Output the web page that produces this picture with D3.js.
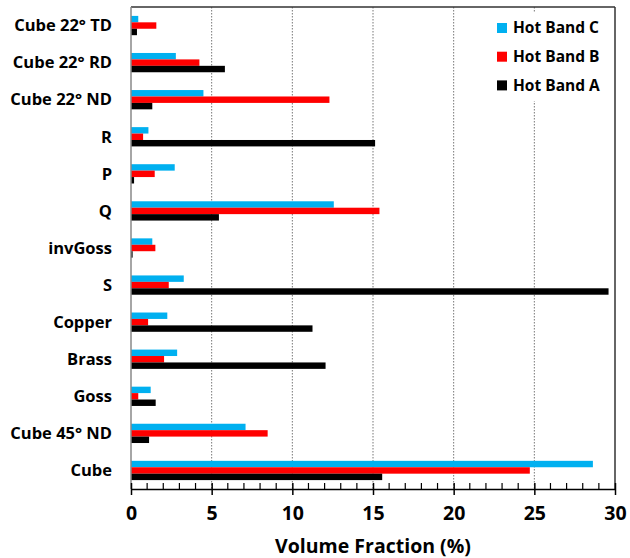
<!DOCTYPE html>
<html><head><meta charset="utf-8">
<script src="https://cdn.jsdelivr.net/npm/d3@7/dist/d3.min.js"></script>
<style>body{margin:0;background:#fff;} svg{display:block;}</style>
</head><body>
<svg id="chart" width="630" height="558"></svg>
<script>
const categories = ["Cube 22° TD","Cube 22° RD","Cube 22° ND","R","P","Q","invGoss","S","Copper","Brass","Goss","Cube 45° ND","Cube"];
const seriesNames = ["Hot Band C","Hot Band B","Hot Band A"];
const seriesColors = ["#00B0F0","#FF0000","#000000"];
const hotBandC = [0.45,2.78,4.49,1.08,2.71,12.57,1.32,3.27,2.25,2.86,1.22,7.1,28.63];
const hotBandB = [1.57,4.24,12.3,0.75,1.47,15.4,1.51,2.34,1.06,2.05,0.45,8.47,24.72];
const hotBandA = [0.37,5.82,1.32,15.13,0.19,5.45,0.1,29.6,11.25,12.06,1.53,1.12,15.57];
const xTicks = [0,5,10,15,20,25,30];
const xTitle = "Volume Fraction (%)";

const series = [hotBandC, hotBandB, hotBandA];
const svg = d3.select("#chart");
const L = 131, R = 615, T = 7, B = 489;
const font = "'Open Sans', 'DejaVu Sans', sans-serif";

const x = d3.scaleLinear().domain([0,30]).range([L,R]);
const y = d3.scaleBand().domain(categories).range([T,B]).paddingInner(0.48).paddingOuter(0.24);
const sub = d3.scaleBand().domain(d3.range(3)).range([0,y.bandwidth()]);

// gridlines
svg.append("g").selectAll("line").data(xTicks.filter(t=>t>0 && t<30)).join("line")
  .attr("x1",d=>x(d)).attr("x2",d=>x(d)).attr("y1",T).attr("y2",B)
  .attr("stroke","#777").attr("stroke-width",1).attr("stroke-dasharray","1.5,1.5");

// bars
const g = svg.append("g");
series.forEach((vals,si)=>{
  g.append("g").selectAll("rect").data(vals).join("rect")
    .attr("x",x(0)).attr("y",(d,i)=>y(categories[i])+sub(si))
    .attr("width",d=>x(d)-x(0)).attr("height",sub.bandwidth())
    .attr("fill",seriesColors[si]);
});

// frame
svg.append("line").attr("x1",L).attr("x2",R).attr("y1",T).attr("y2",T).attr("stroke","#333").attr("stroke-width",1.5);
svg.append("line").attr("x1",R).attr("x2",R).attr("y1",T).attr("y2",B).attr("stroke","#333").attr("stroke-width",1.5);
svg.append("line").attr("x1",L).attr("x2",L).attr("y1",T).attr("y2",B).attr("stroke","#888").attr("stroke-width",1.5);

// x axis
const ax = svg.append("g").attr("transform",`translate(0,${B})`);
ax.call(d3.axisBottom(x).tickValues(xTicks).tickSize(6).tickSizeOuter(0).tickFormat(d3.format("d")));
ax.select(".domain").attr("stroke","#000").attr("stroke-width",1.5);
ax.selectAll(".tick line").attr("stroke","#000").attr("stroke-width",1.5).attr("y1",-6).attr("y2",6);
ax.selectAll(".tick text").attr("font-family",font).attr("font-weight","bold").attr("font-size",19.5).attr("fill","#000")
  .attr("y",31).attr("dy",0);
// minor ticks
ax.append("g").selectAll("line").data(d3.range(1,30).filter(v=>v%5!==0)).join("line")
  .attr("x1",d=>x(d)).attr("x2",d=>x(d)).attr("y1",-6).attr("y2",0)
  .attr("stroke","#000").attr("stroke-width",1.2);

// y labels
svg.append("g").selectAll("text").data(categories).join("text")
  .attr("x",112).attr("y",d=>y(d)+y.bandwidth()/2).attr("dy","0.35em")
  .attr("text-anchor","end").attr("font-family",font).attr("font-weight","bold")
  .attr("font-size",16.5).attr("fill","#000").text(d=>d);

// x title
svg.append("text").attr("x",(L+R)/2).attr("y",553).attr("text-anchor","middle")
  .attr("font-family",font).attr("font-weight","bold").attr("font-size",19.5).attr("fill","#000").text(xTitle);

// legend
const lg = svg.append("g");
lg.append("rect").attr("x",490).attr("y",13).attr("width",122).attr("height",88).attr("fill","#fff");
seriesNames.forEach((n,i)=>{
  const yy = 28 + i*28.7;
  lg.append("rect").attr("x",497).attr("y",yy-5).attr("width",10).attr("height",10).attr("fill",seriesColors[i]);
  lg.append("text").attr("x",513).attr("y",yy).attr("dy","0.35em").attr("font-family",font)
    .attr("font-weight","bold").attr("font-size",15.5).attr("fill","#000").text(n);
});
</script>
</body></html>
